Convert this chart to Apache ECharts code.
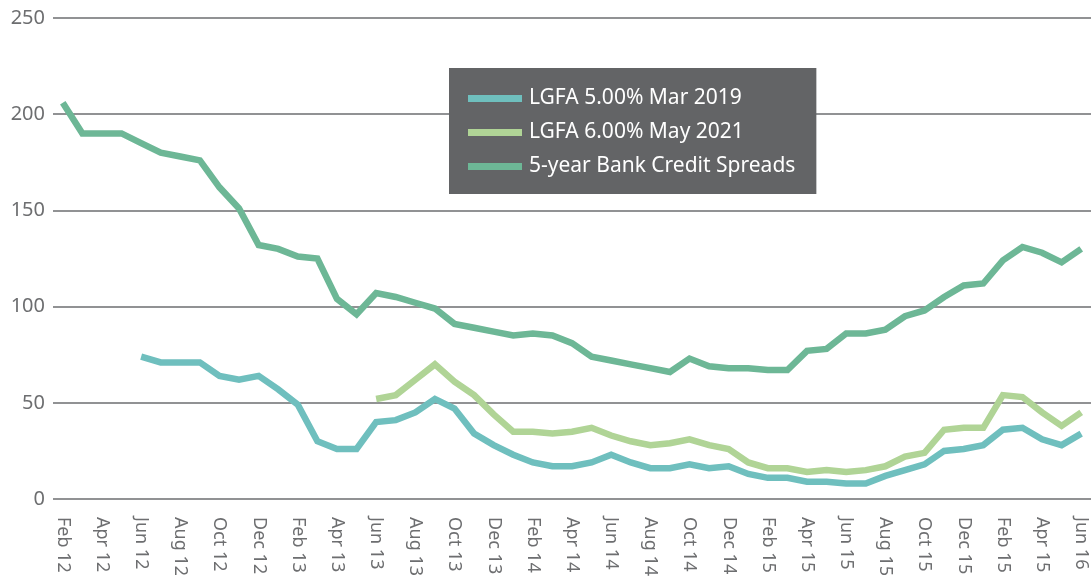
<!DOCTYPE html>
<html>
<head>
<meta charset="utf-8">
<script src="https://cdn.jsdelivr.net/npm/echarts@6/dist/echarts.min.js"></script>
<style>
  html, body { margin: 0; padding: 0; background: #fff; }
  #chart { width: 1091px; height: 579px; }
</style>
</head>
<body>
<div id="chart"></div>
<script>
// monthly, Feb 12 .. Jun 16 (the source labels Feb 16 / Apr 16 as "Feb 15" / "Apr 15")
var months = [
  "Feb 12", "Mar 12", "Apr 12", "May 12", "Jun 12", "Jul 12", "Aug 12", "Sep 12", "Oct 12", "Nov 12", "Dec 12",
  "Jan 13", "Feb 13", "Mar 13", "Apr 13", "May 13", "Jun 13", "Jul 13", "Aug 13", "Sep 13", "Oct 13", "Nov 13", "Dec 13",
  "Jan 14", "Feb 14", "Mar 14", "Apr 14", "May 14", "Jun 14", "Jul 14", "Aug 14", "Sep 14", "Oct 14", "Nov 14", "Dec 14",
  "Jan 15", "Feb 15", "Mar 15", "Apr 15", "May 15", "Jun 15", "Jul 15", "Aug 15", "Sep 15", "Oct 15", "Nov 15", "Dec 15",
  "Jan 16", "Feb 15", "Mar 16", "Apr 15", "May 16", "Jun 16"
];

var lgfa2019 = [
  null, null, null, null, 74, 71, 71, 71, 64, 62, 64,
  57, 49, 30, 26, 26, 40, 41, 45, 52, 47, 34, 28,
  23, 19, 17, 17, 19, 23, 19, 16, 16, 18, 16, 17,
  13, 11, 11, 9, 9, 8, 8, 12, 15, 18, 25, 26,
  28, 36, 37, 31, 28, 34
];

var lgfa2021 = [
  null, null, null, null, null, null, null, null, null, null, null,
  null, null, null, null, null, 52, 54, 62, 70, 61, 54, 44,
  35, 35, 34, 35, 37, 33, 30, 28, 29, 31, 28, 26,
  19, 16, 16, 14, 15, 14, 15, 17, 22, 24, 36, 37,
  37, 54, 53, 45, 38, 45
];

var bankSpreads = [
  206, 190, 190, 190, 185, 180, 178, 176, 162, 151, 132,
  130, 126, 125, 104, 96, 107, 105, 102, 99, 91, 89, 87,
  85, 86, 85, 81, 74, 72, 70, 68, 66, 73, 69, 68,
  68, 67, 67, 77, 78, 86, 86, 88, 95, 98, 105, 111,
  112, 124, 131, 128, 123, 130
];

var names = ["LGFA 5.00% Mar 2019", "LGFA 6.00% May 2021", "5-year Bank Credit Spreads"];
var colors = ["#6fbfbe", "#b0d496", "#6db796"];
var font = "'Noto Sans', 'Open Sans', sans-serif";

var myChart = echarts.init(document.getElementById("chart"));

function lineSeries(name, data, color) {
  return {
    name: name,
    type: "line",
    data: data,
    symbol: "none",
    connectNulls: false,
    lineStyle: { color: color, width: 6.5, join: "miter" },
    itemStyle: { color: color },
    z: 3
  };
}

var option = {
  animation: false,
  backgroundColor: "#ffffff",
  textStyle: { fontFamily: font },
  grid: { left: 53, top: 18, width: 1044, height: 481, containLabel: false },
  legend: {
    orient: "vertical",
    left: 449,
    top: 68,
    backgroundColor: "#636466",
    padding: [20, 21, 17, 19],
    itemGap: 13,
    itemWidth: 54,
    itemHeight: 7,
    icon: "rect",
    textStyle: { color: "#ffffff", fontSize: 21, fontFamily: font, padding: [0, 0, 0, 2] },
    data: names
  },
  xAxis: {
    type: "category",
    data: months,
    boundaryGap: true,
    axisLine: { show: false },
    axisTick: { show: false },
    axisLabel: {
      interval: 1,
      rotate: -90,
      margin: 18,
      color: "#6d6e70",
      fontSize: 18
    },
    splitLine: { show: false }
  },
  yAxis: {
    type: "value",
    min: 0,
    max: 250,
    interval: 50,
    axisLine: { show: false },
    axisTick: { show: false },
    axisLabel: { color: "#6d6e70", fontSize: 20, margin: 8 },
    splitLine: { lineStyle: { color: "#6d6e70", width: 1.5 } }
  },
  series: [
    lineSeries(names[0], lgfa2019, colors[0]),
    lineSeries(names[1], lgfa2021, colors[1]),
    lineSeries(names[2], bankSpreads, colors[2])
  ]
};

myChart.setOption(option);
window.addEventListener("resize", function () {
  myChart.resize();
});
</script>
</body>
</html>
